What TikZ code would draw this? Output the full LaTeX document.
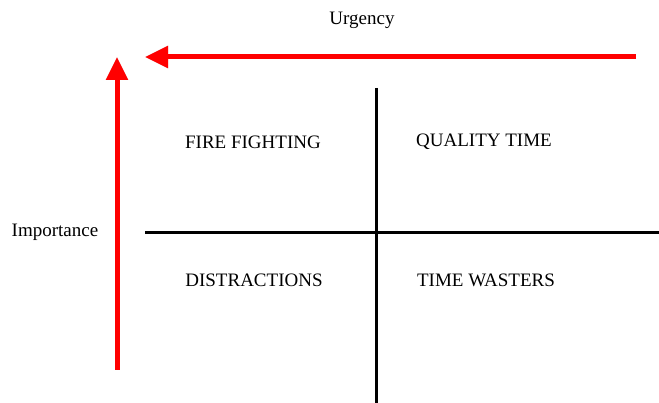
\documentclass[tikz,border=0pt]{standalone}
\usepackage{fontspec}
\setmainfont{Liberation Serif}
\usetikzlibrary{arrows.meta,positioning,calc}
\tikzset{
	x=1pt, y=-1pt,
	redaxis/.style={
		line width=5pt, draw=red, -{Triangle[length=23pt,width=21pt]}
	},
	%
	divider/.style={
		line width=3pt, draw=black
	},
	%
	dropshadow/.style={
		draw=black!25, fill=black!25, opacity=0.7, shift={(1.5,3.5)}
	},
	%
	quadrant/.style={
		font=\fontsize{19}{22}\selectfont, inner sep=0pt
	},
	%
	axislabel/.style={
		font=\fontsize{19}{22}\selectfont, inner sep=0pt
	}
}
\begin{document}
\begin{tikzpicture}
    \useasboundingbox (0,0) rectangle (659,403);
    % axes ends
    \coordinate(Ustart) at (636,57);
    \coordinate(Uend) at (145,57);
    \coordinate(Istart) at (117,370);
    \coordinate(Iend) at (117,57);
    \coordinate(Vtop) at (376,88);
    \coordinate(Vbot) at (376,403);
    \coordinate(Hleft) at (145,233);
    \coordinate(Hright) at (659,233);
    % shadows
    \draw[redaxis, dropshadow] (Ustart) -- (Uend);
    \draw[redaxis, dropshadow] (Istart) -- (Iend);
    \draw[divider, dropshadow] (Vtop) -- (Vbot);
    \draw[divider, dropshadow] (Hleft) -- (Hright);
    % axes
    \draw[redaxis] (Ustart) -- (Uend);
    \draw[redaxis] (Istart) -- (Iend);
    \draw[divider] (Vtop) -- (Vbot);
    \draw[divider] (Hleft) -- (Hright);
    % labels
    \node(urgency)[axislabel] at (362,20){Urgency};
    \node(importance)[axislabel] at (55,232){Importance};
    \node(fire)[quadrant] at (253,142){FIRE FIGHTING};
    \node(quality)[quadrant] at (484,142){QUALITY TIME};
    \node(distract)[quadrant] at (254,280){DISTRACTIONS};
    \node(wasters)[quadrant] at (486,280){TIME WASTERS};
\end{tikzpicture}
\end{document}
